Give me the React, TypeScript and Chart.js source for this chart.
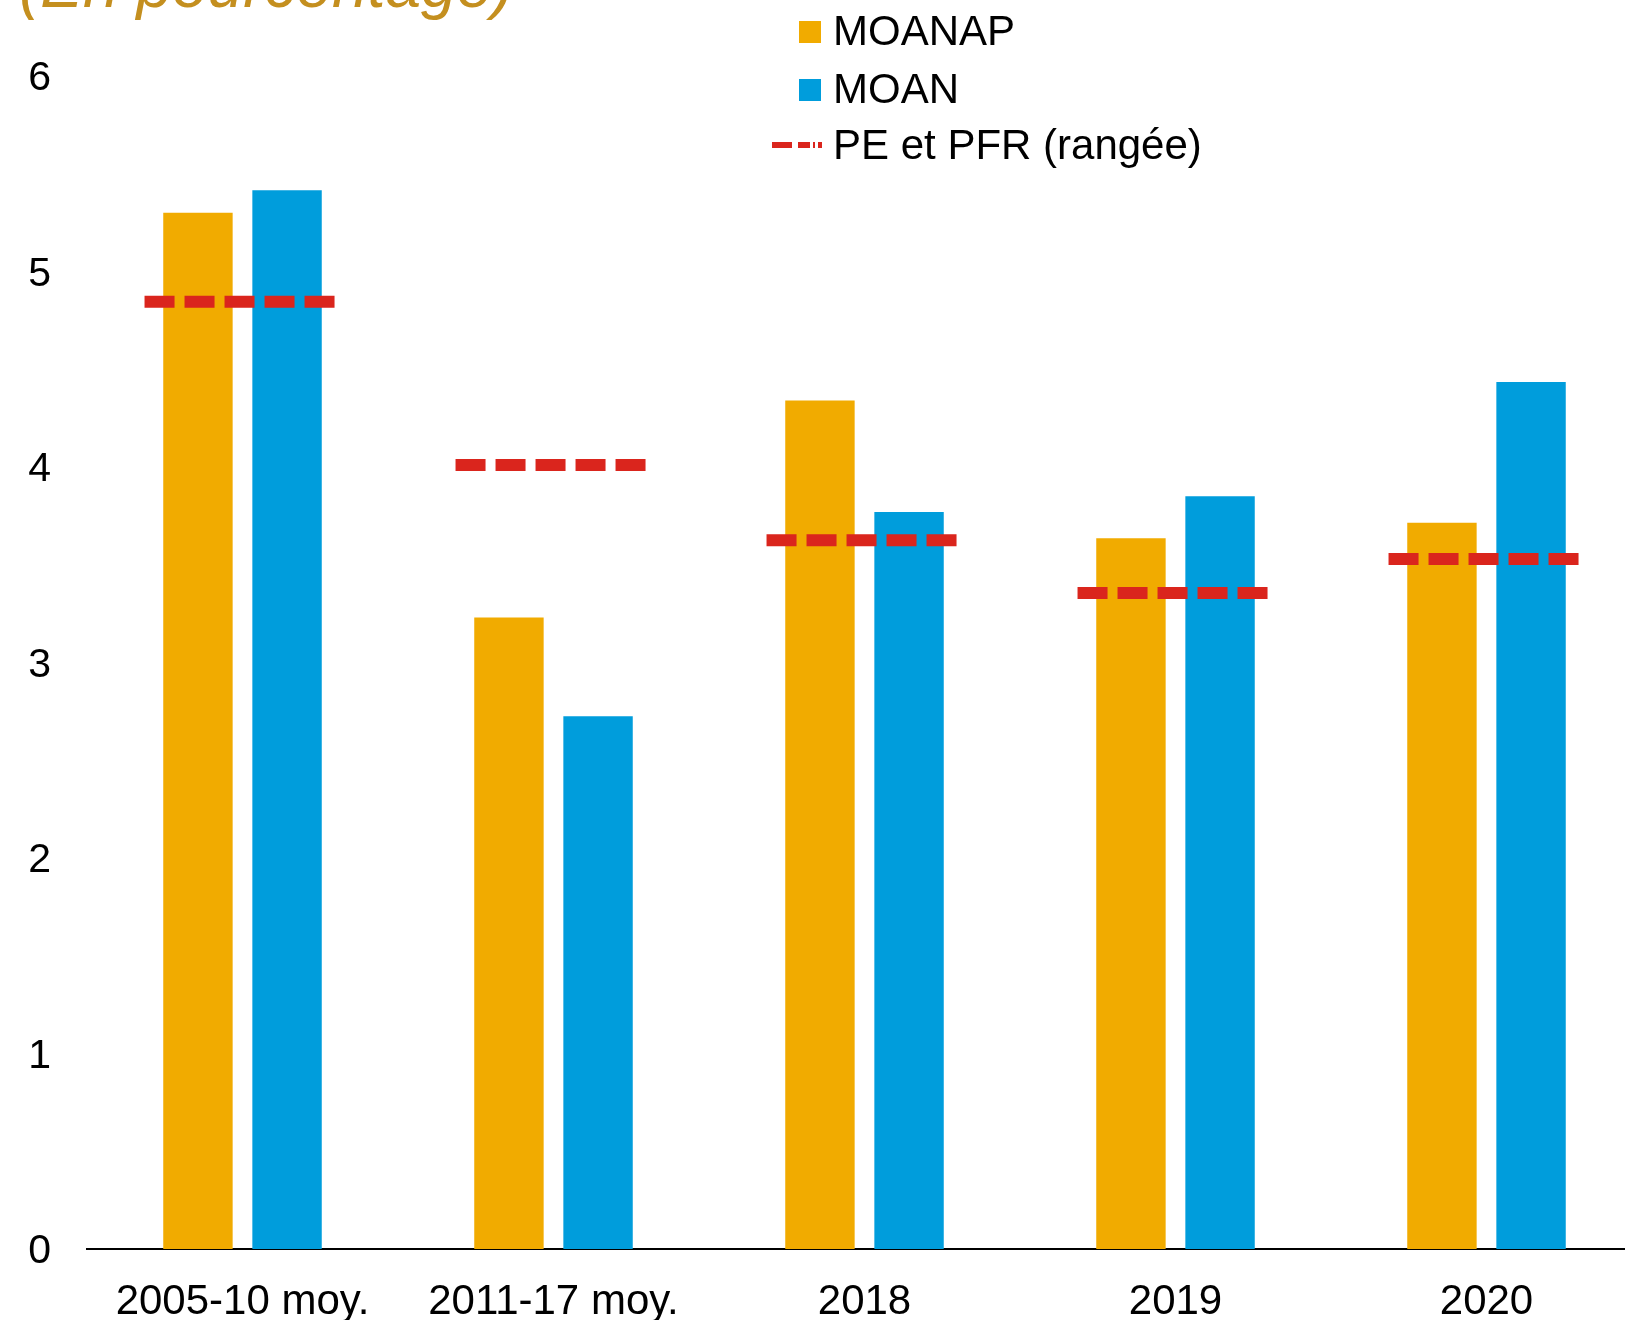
import React, { useEffect, useRef } from "react";
import { Chart, registerables } from "chart.js";

Chart.register(...registerables);

// ---- Data ----
const categories = ["2005-10 moy.", "2011-17 moy.", "2018", "2019", "2020"];
const moanap = [5.3, 3.23, 4.34, 3.635, 3.715];
const moan = [5.415, 2.725, 3.77, 3.85, 4.435];
const peEtPfr = [4.845, 4.01, 3.625, 3.355, 3.53];
const seriesLabels = ["MOANAP", "MOAN", "PE et PFR (rangée)"];
const titleText = "(En pourcentage)";
const yMin = 0;
const yMax = 6;
const yStep = 1;
// horizontal extent of each range marker, as a fraction of a category's width
const rangeLeft = -0.315;
const rangeRight = 0.298;

// ---- Styles ----
const FONT = '"Liberation Sans", Arial, sans-serif';
const ORANGE = "#F1AB00";
const BLUE = "#009DDC";
const RED = "#DA251D";
const GOLD = "#C48F1F";

// Draws the range markers (dashed red segments) through the chart's scales
const rangePlugin = {
  id: "rangeMarkers",
  afterDatasetsDraw(chart: any) {
    const xs = chart.scales.x;
    const ys = chart.scales.y;
    const step = xs.getPixelForValue(1) - xs.getPixelForValue(0);
    const ctx = chart.ctx;
    ctx.save();
    ctx.strokeStyle = RED;
    ctx.lineWidth = 12;
    ctx.lineCap = "butt";
    ctx.setLineDash([30, 10]);
    peEtPfr.forEach((v, i) => {
      const cx = xs.getPixelForValue(i);
      const y = ys.getPixelForValue(v);
      ctx.beginPath();
      ctx.moveTo(cx + rangeLeft * step, y);
      ctx.lineTo(cx + rangeRight * step, y);
      ctx.stroke();
    });
    ctx.restore();
  },
};

const titleLegendPlugin = {
  id: "titleLegend",
  afterDraw(chart: any) {
    const ctx = chart.ctx;
    ctx.save();
    // title (cut off at the top as in the reference)
    ctx.font = `italic 64px ${FONT}`;
    ctx.fillStyle = GOLD;
    ctx.textAlign = "left";
    ctx.textBaseline = "alphabetic";
    ctx.fillText(titleText, 19, 7);

    // legend
    const ds = chart.data.datasets;
    const rows = [
      { y: 32, label: ds[0].label, color: ds[0].backgroundColor, kind: "box" },
      { y: 90, label: ds[1].label, color: ds[1].backgroundColor, kind: "box" },
      { y: 146, label: seriesLabels[2], color: RED, kind: "dash" },
    ];
    ctx.font = `42px ${FONT}`;
    ctx.textBaseline = "middle";
    for (const r of rows) {
      if (r.kind === "box") {
        ctx.fillStyle = r.color;
        ctx.fillRect(799, r.y - 11, 22, 22);
      } else {
        ctx.strokeStyle = r.color;
        ctx.lineWidth = 6;
        ctx.setLineDash([20, 6, 12, 3, 2, 3]);
        ctx.beginPath();
        ctx.moveTo(772, r.y - 1);
        ctx.lineTo(822, r.y - 1);
        ctx.stroke();
        ctx.setLineDash([]);
      }
      ctx.fillStyle = "#000";
      ctx.fillText(r.label, 833, r.y + 1);
    }
    ctx.restore();
  },
};

export default function App() {
  const ref = useRef<HTMLCanvasElement | null>(null);

  useEffect(() => {
    if (!ref.current) return;
    const chart = new Chart(ref.current, {
      type: "bar",
      data: {
        labels: categories,
        datasets: [
          {
            label: seriesLabels[0],
            data: moanap,
            backgroundColor: ORANGE,
            borderWidth: 0,
            categoryPercentage: 0.573,
            barPercentage: 0.779,
          },
          {
            label: seriesLabels[1],
            data: moan,
            backgroundColor: BLUE,
            borderWidth: 0,
            categoryPercentage: 0.573,
            barPercentage: 0.779,
          },
        ],
      },
      options: {
        responsive: false,
        animation: false,
        devicePixelRatio: 1,
        layout: { padding: { top: 76, left: 26, right: 0, bottom: 0 } },
        plugins: {
          legend: { display: false },
          title: { display: false },
          tooltip: { enabled: false },
        },
        scales: {
          x: {
            type: "category",
            offset: true,
            grid: { display: false, drawTicks: false },
            border: { display: true, color: "#000", width: 2 },
            ticks: {
              color: "#000",
              font: { family: FONT, size: 42 },
              padding: 28,
              maxRotation: 0,
              autoSkip: false,
            },
            afterFit: (scale: any) => {
              scale.height = 75;
              scale.paddingLeft = 0;
              scale.paddingRight = 0;
            },
          },
          y: {
            type: "linear",
            min: yMin,
            max: yMax,
            grid: { display: false, drawTicks: false },
            border: { display: false },
            ticks: {
              stepSize: yStep,
              color: "#000",
              font: { family: FONT, size: 41 },
              padding: 36,
              labelOffset: 3,
            },
            afterFit: (scale: any) => {
              scale.width = 61;
            },
          },
        },
      },
      plugins: [rangePlugin, titleLegendPlugin],
    });
    return () => chart.destroy();
  }, []);

  return (
    <div
      style={{
        position: "fixed",
        left: 0,
        top: 0,
        width: 1625,
        height: 1320,
        overflow: "hidden",
        background: "#fff",
      }}
    >
      <canvas
        ref={ref}
        width={1642}
        height={1324}
        style={{ display: "block", width: "1642px", height: "1324px" }}
      />
    </div>
  );
}
